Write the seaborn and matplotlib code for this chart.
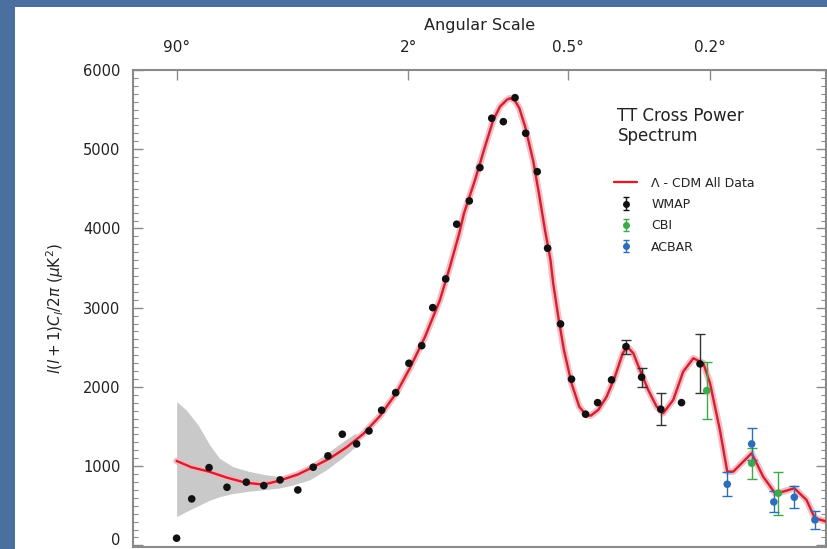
import numpy as np
import matplotlib
matplotlib.use("Agg")
import matplotlib.pyplot as plt
import seaborn as sns
from matplotlib.patches import Rectangle
from matplotlib.lines import Line2D
from matplotlib.ticker import MultipleLocator, NullLocator

# ---------------- data (multipole l, l(l+1)C_l/2pi in uK^2) ----------------
model_l = [2, 2.96, 4.53, 6.67, 9.73, 13.3, 17.4, 22.9, 28.6, 36.0, 44.6, 54.6,
           66.3, 79.7, 91.7, 106.8, 123.7, 136.0, 148.3, 154.8, 170.9, 186.4,
           200.1, 211.7, 223.8, 230.0, 239.6, 247.9, 259.6, 276.9, 290, 303,
           316, 322.4, 334.8, 349.1, 369.0, 389.9, 409, 423, 445.5, 472, 499,
           525.5, 541, 563, 587.6, 619.5, 653, 680, 723.2, 768, 815.6, 864.5,
           898.6, 950.5, 990.8, 1024.5, 1063, 1133, 1205, 1283, 1339, 1417,
           1507, 1572, 1668]
model_val = [1066, 987, 931, 855, 790, 768, 820, 895, 990, 1100, 1240, 1407,
             1634, 1931, 2240, 2631, 3098, 3518, 3940, 4192, 4613, 5033,
             5370, 5538, 5622, 5644, 5610, 5520, 5290, 4850, 4420, 3982,
             3600, 3309, 2888, 2467, 2047, 1752, 1647, 1638, 1710, 1878, 2130,
             2425, 2509, 2425, 2215, 1962, 1752, 1668, 1836, 2193, 2362, 2299,
             2047, 1458, 931, 931, 1016, 1164, 868, 659, 679, 722,
             574, 343, 300]

band_l = [2, 2.6, 3.5, 4.6, 5.7, 7.5, 10.4, 13.9, 17.3, 21.3, 27.2, 34.2, 42, 50]
band_hi = [1815, 1710, 1521, 1268, 1100, 994, 931, 890, 870, 900, 1010, 1160, 1300, 1420]
band_lo = [363, 427, 500, 570, 615, 655, 685, 705, 725, 763, 827, 953, 1100, 1250]

wmap_l = [2, 2.99, 4.53, 6.67, 9.73, 13.3, 17.4, 22.9, 28.6, 35.0, 42.2, 50.4,
          58.4, 67.5, 78.8, 90.7, 103.4, 115.3, 130.6, 144.8, 162.4, 178.4,
          197.5, 217.7, 239.6, 260.9, 285.6, 309.1, 340.6, 369.0, 408.0,
          443.6, 487.8, 536.8, 594.0, 670.3, 760.3, 848]
wmap_val = [91, 587, 982, 734, 798, 755, 827, 700, 987, 1130, 1403, 1281,
            1445, 1706, 1928, 2299, 2521, 3001, 3363, 4054, 4348, 4768,
            5391, 5348, 5651, 5202, 4717, 3751, 2795, 2098, 1656,
            1802, 2089, 2509, 2123, 1719, 1802, 2291]
wmap_err = [0] * 33 + [88, 120, 200, 0, 372]

cbi_l = [881.8, 1133, 1305]
cbi_val = [1954, 1037, 659]
cbi_err = [358, 195, 273]

acbar_l = [990.8, 1133, 1275, 1417, 1572]
acbar_val = [772, 1281, 549, 608, 322]
acbar_err = [153, 204, 132, 142, 117]

angle_ticks_l = [2, 90, 360, 900]
angle_labels = ["90\u00b0", "2\u00b0", "0.5\u00b0", "0.2\u00b0"]

legend_labels = ["\u039b - CDM All Data", "WMAP", "CBI", "ACBAR"]
title_text = "TT Cross Power\nSpectrum"

# ---------------- styling ----------------
sns.set_style("ticks")
plt.rcParams["font.family"] = ["DejaVu Sans"]
plt.rcParams["mathtext.fontset"] = "dejavusans"

RED = "#d41f2d"
PINK = "#f3b3bd"
GRAY_BAND = "#c9c9c9"
C_WMAP = "#111111"
C_CBI = "#3daa4a"
C_ACBAR = "#2d6fb6"
SPINE = "#8a8a8a"
TXT = "#222222"

fig = plt.figure(figsize=(8.27, 5.49), dpi=100, facecolor="#4b6f9e")
fig.patches.append(Rectangle((15 / 827, 0), 1, 1 - 7 / 549, transform=fig.transFigure,
                             facecolor="white", edgecolor="none", zorder=-5))
ax = fig.add_axes([133 / 827, 2 / 549, 693 / 827, 477 / 549])
ax.set_facecolor("white")

P = 0.26
def fwd(x):
    x = np.asarray(x, dtype=float)
    return np.sign(x) * np.abs(x) ** P
def inv(y):
    y = np.asarray(y, dtype=float)
    return np.sign(y) * np.abs(y) ** (1 / P)
ax.set_xscale("function", functions=(fwd, inv))

# cosmic variance band
ax.fill_between(band_l, band_lo, band_hi, color=GRAY_BAND, lw=0, zorder=1)

# model curve with pink band
ax.plot(model_l, model_val, color=PINK, lw=4.8, alpha=0.85, solid_capstyle="round",
        solid_joinstyle="round", zorder=2)
sns.lineplot(x=model_l, y=model_val, ax=ax, color=RED, lw=1.7, sort=False, zorder=3)

# error bars
wl, wv, we = np.array(wmap_l), np.array(wmap_val), np.array(wmap_err)
m = we > 0
ax.errorbar(wl[m], wv[m], yerr=we[m], fmt="none", ecolor="#333333", elinewidth=1,
            capsize=3.5, capthick=1, zorder=4)
ax.errorbar(cbi_l, cbi_val, yerr=cbi_err, fmt="none", ecolor=C_CBI, elinewidth=1,
            capsize=3.5, capthick=1, zorder=4)
ax.errorbar(acbar_l, acbar_val, yerr=acbar_err, fmt="none", ecolor=C_ACBAR, elinewidth=1,
            capsize=3.5, capthick=1, zorder=4)

# points
sns.scatterplot(x=wmap_l, y=wmap_val, ax=ax, color=C_WMAP, s=30, edgecolor="none",
                zorder=5, legend=False)
sns.scatterplot(x=cbi_l, y=cbi_val, ax=ax, color=C_CBI, s=30, edgecolor="none",
                zorder=5, legend=False)
sns.scatterplot(x=acbar_l, y=acbar_val, ax=ax, color=C_ACBAR, s=30, edgecolor="none",
                zorder=5, legend=False)

# legend proxies (placed outside view)
h_model = Line2D([], [], color=RED, lw=1.7)
proxies = []
for c in (C_WMAP, C_CBI, C_ACBAR):
    proxies.append(ax.errorbar([1e5], [1e5], yerr=[1], fmt="o", color=c, ms=4,
                               elinewidth=1, capsize=2.5, capthick=1))
leg = ax.legend([h_model] + proxies, legend_labels, loc="upper left",
                bbox_to_anchor=(0.6945, 0.776), frameon=False, fontsize=9,
                handlelength=1.85, handletextpad=1.1, labelspacing=0.66,
                borderpad=0, borderaxespad=0)
for t in leg.get_texts():
    t.set_color(TXT)

ax.text(0.699, 0.922, title_text, transform=ax.transAxes, ha="left", va="top",
        fontsize=12, color=TXT, linespacing=1.1)

# axes limits and ticks
ax.set_xlim(0.458, 1660)
ax.set_ylim(-20, 6000)

ax.xaxis.tick_top()
ax.set_xticks(angle_ticks_l)
ax.set_xticklabels(angle_labels)
ax.xaxis.set_minor_locator(NullLocator())
ax.xaxis.set_label_position("top")
ax.set_xlabel("Angular Scale", fontsize=11.5, labelpad=7, color=TXT)
ax.tick_params(axis="x", which="major", direction="in", length=7, width=1, color=SPINE,
               pad=11, labelsize=11, labelcolor=TXT, top=True, bottom=False,
               labeltop=True, labelbottom=False)

ax.set_yticks([0, 1000, 2000, 3000, 4000, 5000, 6000])
ax.yaxis.set_minor_locator(MultipleLocator(100))
ax.tick_params(axis="y", which="major", direction="in", length=7, width=1, color=SPINE,
               left=True, right=True, pad=9, labelsize=10.5, labelcolor=TXT)
ax.tick_params(axis="y", which="minor", direction="in", length=3.5, width=0.8,
               color=SPINE, left=True, right=True)
ax.set_ylabel(r"$l(l+1)C_l/2\pi$ ($\mu$K$^2$)", fontsize=11, color=TXT)
ax.yaxis.set_label_coords(-0.096, 0.5)
ylabels = ax.get_yticklabels()
for lbl in ylabels:
    lbl.set_verticalalignment("center_baseline")
ylabels[0].set_verticalalignment("baseline")

for s in ax.spines.values():
    s.set_color(SPINE)
    s.set_linewidth(1.5)
    s.set_visible(True)

fig.savefig("out.png", dpi=100, facecolor=fig.get_facecolor())
